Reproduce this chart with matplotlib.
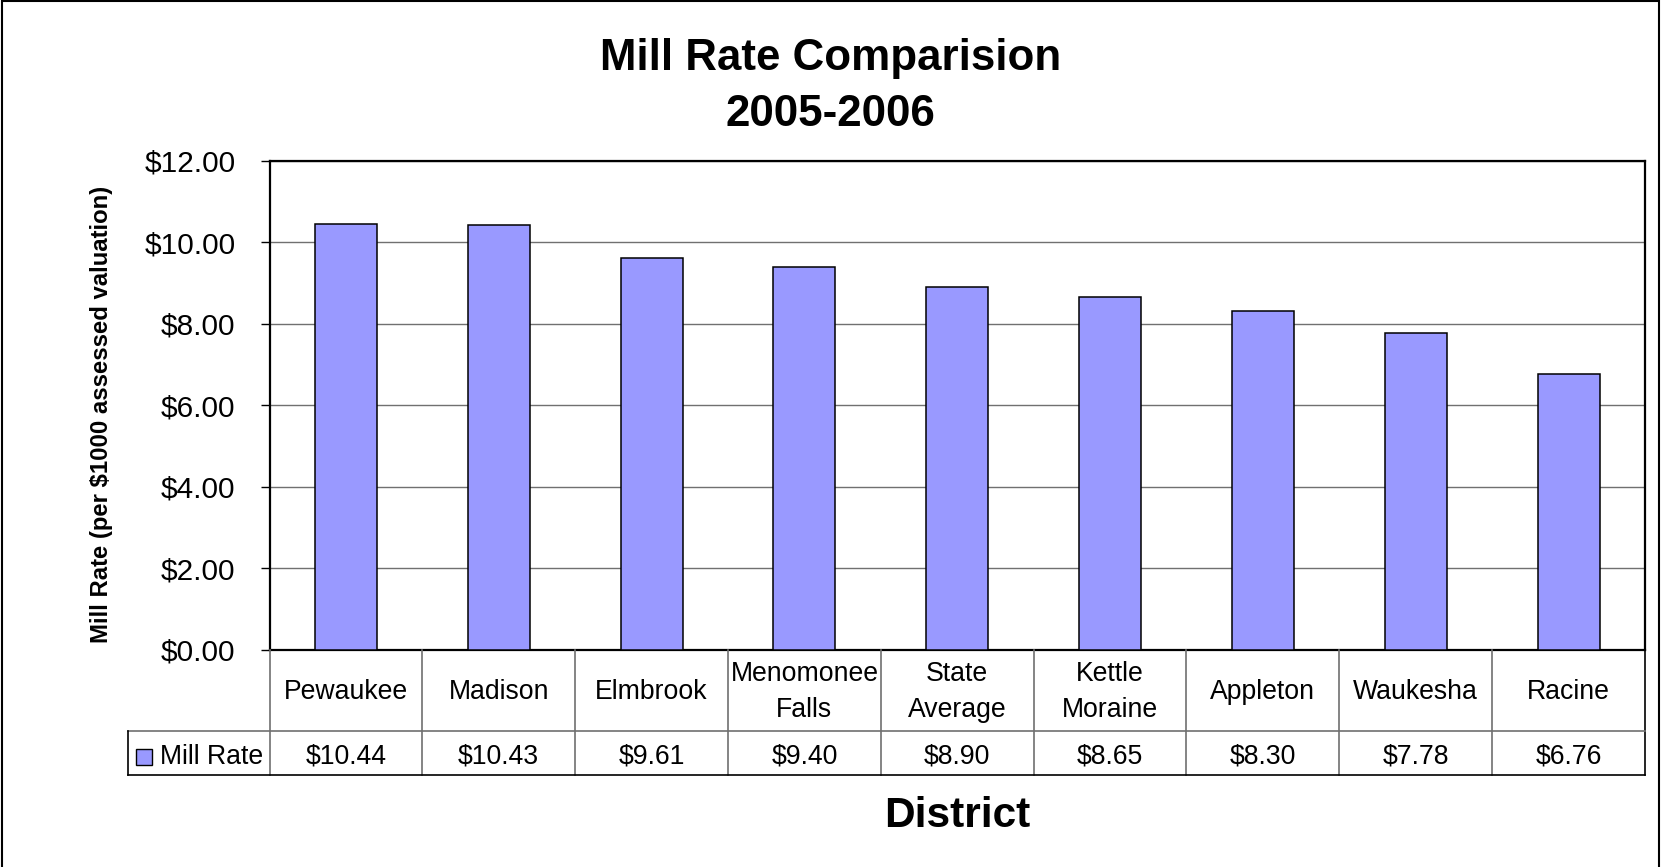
import matplotlib
matplotlib.use("Agg")
import matplotlib.pyplot as plt
import matplotlib.transforms as mtransforms
from matplotlib.patches import Rectangle

districts = ["Pewaukee", "Madison", "Elmbrook", "Menomonee\nFalls", "State\nAverage",
             "Kettle\nMoraine", "Appleton", "Waukesha", "Racine"]
mill_rate = [10.44, 10.43, 9.61, 9.40, 8.90, 8.65, 8.30, 7.78, 6.76]
y_ticks = [0, 2, 4, 6, 8, 10, 12]
series_name = "Mill Rate"

W, H = 1661, 867
BAR = "#9999ff"
GRID = "#707070"

plt.rcParams["font.family"] = ["Liberation Sans", "DejaVu Sans"]
fig = plt.figure(figsize=(W / 100, H / 100), dpi=100)

# plot area in pixels
left, right, top, bottom = 269.5, 1645, 160.7, 649.5
ax = fig.add_axes([left / W, 1 - bottom / H, (right - left) / W, (bottom - top) / H])
x = list(range(len(mill_rate)))
ax.bar(x, mill_rate, width=0.405, color=BAR, edgecolor="black", linewidth=1.1, zorder=3)
ax.set_xlim(-0.5, len(mill_rate) - 0.5)
ax.set_ylim(0, 12)
ax.set_yticks(y_ticks)
ax.set_yticklabels([f"${v:.2f}" for v in y_ticks], fontsize=21.4)
ax.tick_params(axis="y", direction="out", length=6.5, width=1, pad=18)
ax.tick_params(axis="x", length=0, labelbottom=False)
ax.yaxis.grid(True, color=GRID, linewidth=1)
ax.set_axisbelow(True)
for s in ax.spines.values():
    s.set_linewidth(1.6)

# data table under the plot
ph = bottom - top
col_w = (right - left) / len(mill_rate)
row1 = -81.5 / ph
row2 = -125.5 / ph


def px_x(px):
    return -0.5 + (px - left) / col_w


trans = mtransforms.blended_transform_factory(ax.transData, ax.transAxes)
leg_left = px_x(128)
n = len(mill_rate)


def line(xs, ys, color, lw):
    ax.plot(xs, ys, color=color, lw=lw, transform=trans, clip_on=False, zorder=5)


for i in range(1, n):
    line([i - 0.5, i - 0.5], [0, row2], GRID, 1.2)
line([n - 0.5, n - 0.5], [0, row2], "black", 1.2)
line([-0.5, -0.5], [0, row2], GRID, 1.2)
line([leg_left, n - 0.5], [row1, row1], GRID, 1.2)
line([leg_left, n - 0.5], [row2, row2], "black", 1.2)
line([leg_left, leg_left], [row1, row2], "black", 1.2)

val_y = (row1 + row2) / 2 - 4 / ph
for i, (name, v) in enumerate(zip(districts, mill_rate)):
    ax.text(i, row1 / 2 - 1.5 / ph, name, transform=trans, ha="center", va="center",
            fontsize=19.2, linespacing=1.5)
    ax.text(i, val_y, f"${v:.2f}", transform=trans, ha="center",
            va="center", fontsize=19.2)

ax.plot([px_x(143.5)], [val_y], marker="s", markersize=11.5,
        markerfacecolor=BAR, markeredgecolor="black", markeredgewidth=1,
        transform=trans, clip_on=False, zorder=6)
ax.text(px_x(160), val_y, series_name, transform=trans,
        ha="left", va="center", fontsize=19.2)

# titles
fig.text(0.5, 1 - 70 / H, "Mill Rate Comparision", ha="center", va="baseline",
         fontsize=31.6, fontweight="bold")
fig.text(0.5, 1 - 126 / H, "2005-2006", ha="center", va="baseline",
         fontsize=31.6, fontweight="bold")
fig.text(957 / W, 1 - 826.7 / H, "District", ha="center", va="baseline",
         fontsize=30.5, fontweight="bold")
fig.text(101.7 / W, 1 - 414 / H, "Mill Rate (per $1000 assessed valuation)",
         rotation=90, ha="center", va="center", fontsize=17.2, fontweight="bold")

fig.add_artist(Rectangle((2 / W, -0.01), (1659 - 2) / W, 1.0 + 0.01 - 1 / H,
                         transform=fig.transFigure, fill=False, lw=1.5,
                         edgecolor="black"))

fig.savefig("out.png", dpi=100)
